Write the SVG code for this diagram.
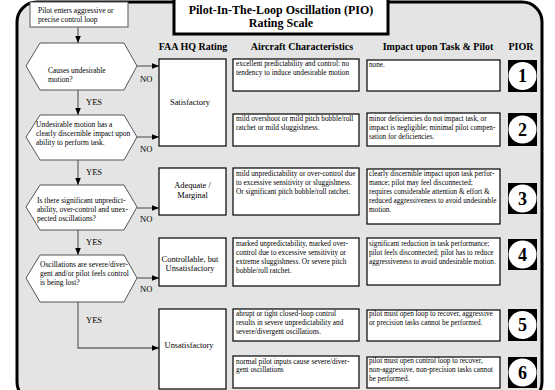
<svg xmlns="http://www.w3.org/2000/svg" width="555" height="390" viewBox="0 0 555 390">
<defs>
<style>
text{font-family:"Liberation Serif","Times New Roman","DejaVu Serif",serif;fill:#000}
.t{font-size:7.3px}
.ti{font-size:7.2px}
.q{font-size:7.5px}
.h{font-size:10px;font-weight:bold}
.title{font-size:12px;font-weight:bold}
.lbl{font-size:8.5px}
.r{font-size:8.4px}
.box{fill:#fff;stroke:#000;stroke-width:1.2}
.hex{fill:#fff;stroke:#555;stroke-width:1}
.cn{fill:none;stroke:#6a6a6a;stroke-width:1.3}
.num{font-size:18px;font-weight:bold;text-anchor:middle}
</style>
<marker id="ar" viewBox="0 0 10 10" refX="10" refY="5" markerWidth="7" markerHeight="7" orient="auto" markerUnits="userSpaceOnUse">
<path d="M0,1 L10,5 L0,9 z" fill="#000"/>
</marker>
</defs>
<rect x="0" y="0" width="555" height="390" fill="#fff"/>
<rect id="frame" x="17" y="2" width="525" height="400" rx="20" ry="20" fill="#e4e4e4" stroke="#000" stroke-width="3"/>
<g font-family="Liberation Serif, DejaVu Serif, serif">
<g id="title">
<rect x="174" y="-4" width="214" height="38" fill="#fff" stroke="#000" stroke-width="3"/>
<text class="title" x="281" y="14" text-anchor="middle">Pilot-In-The-Loop Oscillation (PIO)</text>
<text class="title" x="281" y="27" text-anchor="middle">Rating Scale</text>
</g>
<g id="headers">
<text class="h" x="193" y="50" text-anchor="middle">FAA HQ Rating</text>
<text class="h" x="302" y="50" text-anchor="middle">Aircraft Characteristics</text>
<text class="h" x="438" y="50" text-anchor="middle">Impact upon Task &amp; Pilot</text>
<text class="h" x="521" y="50" text-anchor="middle">PIOR</text>
</g>
<g id="connectors">
<line class="cn" x1="78" y1="27" x2="78" y2="43" marker-end="url(#ar)"/>
<line class="cn" x1="78" y1="90" x2="78" y2="115" marker-end="url(#ar)"/>
<line class="cn" x1="78" y1="160" x2="78" y2="185" marker-end="url(#ar)"/>
<line class="cn" x1="78" y1="230" x2="78" y2="255" marker-end="url(#ar)"/>
<polyline class="cn" points="78,302 78,348 159,348" marker-end="url(#ar)"/>
<line class="cn" x1="137" y1="66" x2="159" y2="66" marker-end="url(#ar)"/>
<line class="cn" x1="137" y1="137" x2="159" y2="137" marker-end="url(#ar)"/>
<line class="cn" x1="137" y1="208" x2="159" y2="208" marker-end="url(#ar)"/>
<line class="cn" x1="137" y1="278" x2="159" y2="278" marker-end="url(#ar)"/>
<text class="lbl" x="86" y="105">YES</text>
<text class="lbl" x="86" y="175">YES</text>
<text class="lbl" x="86" y="245">YES</text>
<text class="lbl" x="86" y="323">YES</text>
<text class="lbl" x="140" y="82">NO</text>
<text class="lbl" x="140" y="152">NO</text>
<text class="lbl" x="140" y="222">NO</text>
<text class="lbl" x="140" y="292">NO</text>
</g>
<g id="start">
<rect x="30" y="2" width="98" height="25" fill="#fff" stroke="#555" stroke-width="1"/>
<text class="q" x="38" y="13">Pilot enters aggressive or</text>
<text class="q" x="38" y="22">precise control loop</text>
</g>
<g id="q1">
<polygon class="hex" points="26,66 40,43 124,43 137,66 124,90 40,90"/>
<text class="q" x="48" y="73">Causes undesirable</text>
<text class="q" x="48" y="82">motion?</text>
</g>
<g id="q2">
<polygon class="hex" points="26,137 40,115 124,115 137,137 124,160 40,160"/>
<text class="q" x="36" y="127">Undesirable motion has a</text>
<text class="q" x="36" y="136">clearly discernible impact upon</text>
<text class="q" x="36" y="145">ability to perform task.</text>
</g>
<g id="q3">
<polygon class="hex" points="26,207 40,185 124,185 137,207 124,230 40,230"/>
<text class="q" x="37" y="203">Is there significant unpredict-</text>
<text class="q" x="37" y="212">ability, over-control and unex-</text>
<text class="q" x="37" y="221">pected oscillations?</text>
</g>
<g id="q4">
<polygon class="hex" points="26,278 40,255 124,255 137,278 124,302 40,302"/>
<text class="q" x="40" y="267">Oscillations are severe/diver-</text>
<text class="q" x="40" y="276">gent and/or pilot feels control</text>
<text class="q" x="40" y="285">is being lost?</text>
</g>
<g id="faa-satisfactory">
<rect class="box" x="159" y="59" width="67" height="87"/>
<text class="r" x="190" y="105" text-anchor="middle">Satisfactory</text>
</g>
<g id="faa-adequate">
<rect class="box" x="159" y="168" width="67" height="47"/>
<text class="r" x="192.5" y="188" text-anchor="middle">Adequate /</text>
<text class="r" x="192.5" y="198" text-anchor="middle">Marginal</text>
</g>
<g id="faa-controllable">
<rect class="box" x="159" y="238" width="67" height="48"/>
<text class="r" x="190" y="262" text-anchor="middle">Controllable, but</text>
<text class="r" x="190" y="271" text-anchor="middle">Unsatisfactory</text>
</g>
<g id="faa-unsatisfactory">
<rect class="box" x="159" y="309" width="67" height="80"/>
<text class="r" x="189" y="348" text-anchor="middle">Unsatisfactory</text>
</g>
<g id="ac1">
<rect class="box" x="233" y="59" width="126" height="32"/>
<text class="t" x="236" y="66">excellent predictability and control: no</text>
<text class="t" x="236" y="75">tendency to induce undesirable motion</text>
</g>
<g id="ac2">
<rect class="box" x="233" y="114" width="126" height="32"/>
<text class="t" x="236" y="121">mild overshoot or mild pitch bobble/roll</text>
<text class="t" x="236" y="130">ratchet or mild sluggishness.</text>
</g>
<g id="ac3">
<rect class="box" x="233" y="168" width="126" height="47"/>
<text class="t" x="236" y="176">mild unpredictability or over-control due</text>
<text class="t" x="236" y="185">to excessive sensitivity or sluggishness.</text>
<text class="t" x="236" y="194">Or significant pitch bobble/roll ratchet.</text>
</g>
<g id="ac4">
<rect class="box" x="233" y="238" width="126" height="48"/>
<text class="t" x="236" y="246">marked unpredictability, marked over-</text>
<text class="t" x="236" y="255">control due to excessive sensitivity or</text>
<text class="t" x="236" y="264">extreme sluggishness. Or severe pitch</text>
<text class="t" x="236" y="273">bobble/roll ratchet.</text>
</g>
<g id="ac5">
<rect class="box" x="233" y="309" width="126" height="32"/>
<text class="t" x="236" y="316">abrupt or tight closed-loop control</text>
<text class="t" x="236" y="325">results in severe unpredictability and</text>
<text class="t" x="236" y="334">severe/divergent oscillations.</text>
</g>
<g id="ac6">
<rect class="box" x="233" y="356" width="126" height="32"/>
<text class="t" x="236" y="364">normal pilot inputs cause severe/diver-</text>
<text class="t" x="236" y="372">gent oscillations</text>
</g>
<g id="im1">
<rect class="box" x="367" y="60" width="133" height="31"/>
<text class="ti" x="369" y="67">none.</text>
</g>
<g id="im2">
<rect class="box" x="367" y="113" width="133" height="33"/>
<text class="ti" x="369" y="121">minor deficiencies do not impact task, or</text>
<text class="ti" x="369" y="130">impact is negligible; minimal pilot compen-</text>
<text class="ti" x="369" y="139">sation for deficiencies.</text>
</g>
<g id="im3">
<rect class="box" x="367" y="169" width="133" height="55"/>
<text class="ti" x="369" y="176">clearly discernible impact upon task perfor-</text>
<text class="ti" x="369" y="185">mance; pilot may feel disconnected;</text>
<text class="ti" x="369" y="194">requires considerable attention &amp; effort &amp;</text>
<text class="ti" x="369" y="203">reduced aggressiveness to avoid undesirable</text>
<text class="ti" x="369" y="212">motion.</text>
</g>
<g id="im4">
<rect class="box" x="367" y="238" width="133" height="47"/>
<text class="ti" x="369" y="246">significant reduction in task performance;</text>
<text class="ti" x="369" y="255">pilot feels disconnected; pilot has to reduce</text>
<text class="ti" x="369" y="264">aggressiveness to avoid undesirable motion.</text>
</g>
<g id="im5">
<rect class="box" x="367" y="310" width="133" height="31"/>
<text class="ti" x="369" y="316">pilot must open loop to recover, aggressive</text>
<text class="ti" x="369" y="325">or precision tasks cannot be performed.</text>
</g>
<g id="im6">
<rect class="box" x="367" y="357" width="133" height="31"/>
<text class="ti" x="369" y="363">pilot must open control loop to recover,</text>
<text class="ti" x="369" y="372">non-aggressive, non-precision tasks cannot</text>
<text class="ti" x="369" y="381">be performed.</text>
</g>
<g id="pior1"><rect x="508" y="60" width="29" height="32" fill="#000"/><circle cx="522.5" cy="76" r="14" fill="#fff"/><text class="num" x="522.5" y="82">1</text></g>
<g id="pior2"><rect x="508" y="113" width="29" height="33" fill="#000"/><circle cx="522.5" cy="129.5" r="14" fill="#fff"/><text class="num" x="522.5" y="135.5">2</text></g>
<g id="pior3"><rect x="508" y="183" width="29" height="31" fill="#000"/><circle cx="522.5" cy="198.5" r="14" fill="#fff"/><text class="num" x="522.5" y="204.5">3</text></g>
<g id="pior4"><rect x="508" y="239" width="29" height="31" fill="#000"/><circle cx="522.5" cy="254.5" r="14" fill="#fff"/><text class="num" x="522.5" y="260.5">4</text></g>
<g id="pior5"><rect x="508" y="309" width="29" height="32" fill="#000"/><circle cx="522.5" cy="325" r="14" fill="#fff"/><text class="num" x="522.5" y="331">5</text></g>
<g id="pior6"><rect x="508" y="357" width="29" height="31" fill="#000"/><circle cx="522.5" cy="372.5" r="14" fill="#fff"/><text class="num" x="522.5" y="378.5">6</text></g>
</g>
</svg>
